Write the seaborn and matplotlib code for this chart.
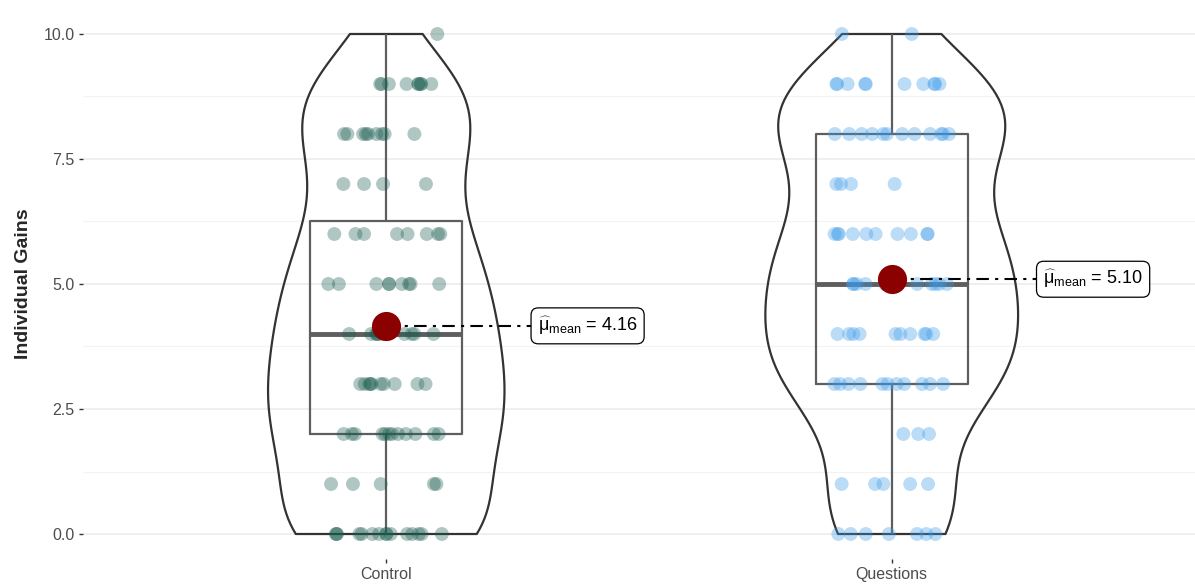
import numpy as np
import pandas as pd
import matplotlib
matplotlib.use("Agg")
import matplotlib.pyplot as plt
from matplotlib.ticker import MultipleLocator
import seaborn as sns

# Gain scores and how many students obtained each score, per condition
groups = ["Control", "Questions"]
gain_values = [0, 1, 2, 3, 4, 5, 6, 7, 8, 9, 10]
control_counts = [15, 5, 12, 10, 10, 9, 8, 4, 9, 9, 1]
questions_counts = [7, 5, 3, 11, 10, 10, 10, 4, 12, 10, 2]
point_colors = ["#1B5E50", "#3D9BEA"]
y_label = "Individual Gains"
y_ticks = [0.0, 2.5, 5.0, 7.5, 10.0]

rows = []
for g, counts in zip(groups, [control_counts, questions_counts]):
    for v, c in zip(gain_values, counts):
        rows += [(g, v)] * c
df = pd.DataFrame(rows, columns=["group", "gain"])
means = df.groupby("group", sort=False)["gain"].mean()

sns.set_theme(style="white")
plt.rcParams["font.family"] = ["Liberation Sans", "DejaVu Sans"]
plt.rcParams["mathtext.fontset"] = "custom"
plt.rcParams["mathtext.rm"] = "Liberation Sans"
plt.rcParams["mathtext.it"] = "Liberation Sans"

fig = plt.figure(figsize=(11.95, 5.87), dpi=100)
ax = fig.add_axes([83 / 1195, 28 / 587, 1 - 83 / 1195, 1 - 37 / 587])

# grid
ax.set_axisbelow(True)
ax.yaxis.set_major_locator(MultipleLocator(2.5))
ax.yaxis.set_minor_locator(MultipleLocator(1.25))
ax.grid(True, which="major", axis="y", color="#EBEBEB", lw=1.1)
ax.grid(True, which="minor", axis="y", color="#F3F3F3", lw=0.8)
ax.grid(True, which="major", axis="x", color="#EBEBEB", lw=1.1)

sns.violinplot(data=df, x="group", y="gain", order=groups, cut=0, width=0.5,
               bw_adjust=0.85, fill=False, inner=None, color="#333333",
               linewidth=1.6, density_norm="area", ax=ax)

np.random.seed(7)
sns.stripplot(data=df, x="group", y="gain", order=groups, hue="group",
              palette=point_colors, jitter=0.115, size=10, alpha=0.35,
              linewidth=0, legend=False, ax=ax)

sns.boxplot(data=df, x="group", y="gain", order=groups, width=0.3, fill=False,
            color="#5E5E5E", linewidth=1.6, showcaps=False, showfliers=False,
            whis=1.5, medianprops=dict(linewidth=3.5, color="#5E5E5E"), ax=ax)

for i, g in enumerate(groups):
    m = means[g]
    ax.plot([i, i + 0.29], [m, m], color="black", lw=1.5,
            dashes=(6, 3, 1.5, 3), zorder=5)
    ax.scatter([i], [m], s=440, color="#8B0000", zorder=6, linewidths=0)
    ax.text(i + 0.30, m, r"$\widehat{\mu}_{\mathrm{mean}}$" + f" = {m:.2f}",
            ha="left", va="center", fontsize=13, color="black", zorder=7,
            bbox=dict(boxstyle="round,pad=0.38,rounding_size=0.4",
                      fc="white", ec="black", lw=0.9))

ax.set_xlim(-0.6, 1.6)
ax.set_ylim(-0.5, 10.5)
ax.set_yticks(y_ticks)
ax.set_yticklabels([f"{t:.1f}" for t in y_ticks])
ax.set_xlabel("")
ax.set_ylabel(y_label, fontsize=14, fontweight="bold", labelpad=8)
ax.tick_params(axis="both", which="major", labelsize=11.5, labelcolor="#4D4D4D",
               length=3, width=1, color="#333333", pad=3, left=True, bottom=True)
ax.tick_params(axis="y", which="minor", length=0)
for s in ax.spines.values():
    s.set_visible(False)

fig.savefig("out.png", dpi=100, facecolor="white")
